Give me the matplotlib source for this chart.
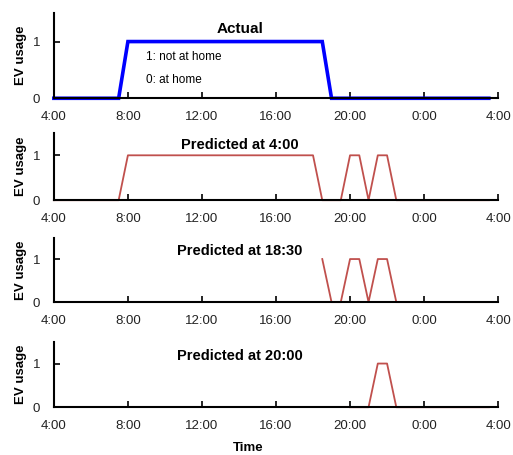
import matplotlib
matplotlib.use('Agg')
import matplotlib.pyplot as plt

plt.rcParams['font.family'] = ['Liberation Sans', 'DejaVu Sans']

# data (hours since midnight, day continues past 24)
actual_t = [4.0, 7.5, 8.0, 18.5, 19.0, 27.5]
actual_v = [0, 0, 1, 1, 0, 0]

pred04_t = [4.0, 7.5, 8.0, 18.0, 18.5, 19.5, 20.0, 20.5, 21.0, 21.5, 22.0, 22.5, 27.5]
pred04_v = [0, 0, 1, 1, 0, 0, 1, 1, 0, 1, 1, 0, 0]

pred1830_t = [18.5, 19.0, 19.5, 20.0, 20.5, 21.0, 21.5, 22.0, 22.5, 27.5]
pred1830_v = [1, 0, 0, 1, 1, 0, 1, 1, 0, 0]

pred20_t = [20.0, 21.0, 21.5, 22.0, 22.5, 27.5]
pred20_v = [0, 0, 1, 1, 0, 0]

tick_pos = [4, 8, 12, 16, 20, 24, 28]
tick_lab = ['4:00', '8:00', '12:00', '16:00', '20:00', '0:00', '4:00']

titles = ['Actual', 'Predicted at 4:00', 'Predicted at 18:30', 'Predicted at 20:00']
series = [(actual_t, actual_v), (pred04_t, pred04_v),
          (pred1830_t, pred1830_v), (pred20_t, pred20_v)]

fig = plt.figure(figsize=(5.13, 4.55), dpi=100)

# [left, bottom, width, height]
boxes = [[0.105, 0.784, 0.866, 0.187],
         [0.105, 0.560, 0.866, 0.148],
         [0.105, 0.336, 0.866, 0.142],
         [0.105, 0.105, 0.866, 0.144]]

red = '#C0504D'

for i, box in enumerate(boxes):
    ax = fig.add_axes(box)
    t, v = series[i]
    if i == 0:
        ax.plot(t, v, color='#0000FF', lw=2.6, solid_joinstyle='miter', clip_on=False)
    else:
        ax.plot(t, v, color=red, lw=1.3, clip_on=False)
    ax.set_xlim(4, 28)
    ax.set_ylim(0, 1.5)
    ax.set_xticks(tick_pos)
    ax.set_xticklabels(tick_lab)
    ax.set_yticks([0, 1])
    ax.tick_params(direction='in', length=4, width=1.2, labelsize=9.5,
                   labelcolor='#222222', pad=9)
    ax.tick_params(axis='y', pad=10)
    for s in ['top', 'right']:
        ax.spines[s].set_visible(False)
    for s in ['left', 'bottom']:
        ax.spines[s].set_linewidth(1.5)
    ax.set_ylabel('EV usage', fontsize=9.5, fontweight='bold', labelpad=4)
    title_y = 1.23 if i < 2 else 1.18
    ax.text(14.05, title_y, titles[i], ha='center', va='center',
            fontsize=11 if i == 0 else 10.5, fontweight='bold')
    if i == 0:
        ax.text(9.0, 0.73, '1: not at home', ha='left', va='center', fontsize=8.5)
        ax.text(9.0, 0.32, '0: at home', ha='left', va='center', fontsize=8.5)

fig.text(248 / 513, 1 - 448 / 455, 'Time', ha='center', va='center',
         fontsize=9.5, fontweight='bold')

fig.savefig('out.png', dpi=100)
